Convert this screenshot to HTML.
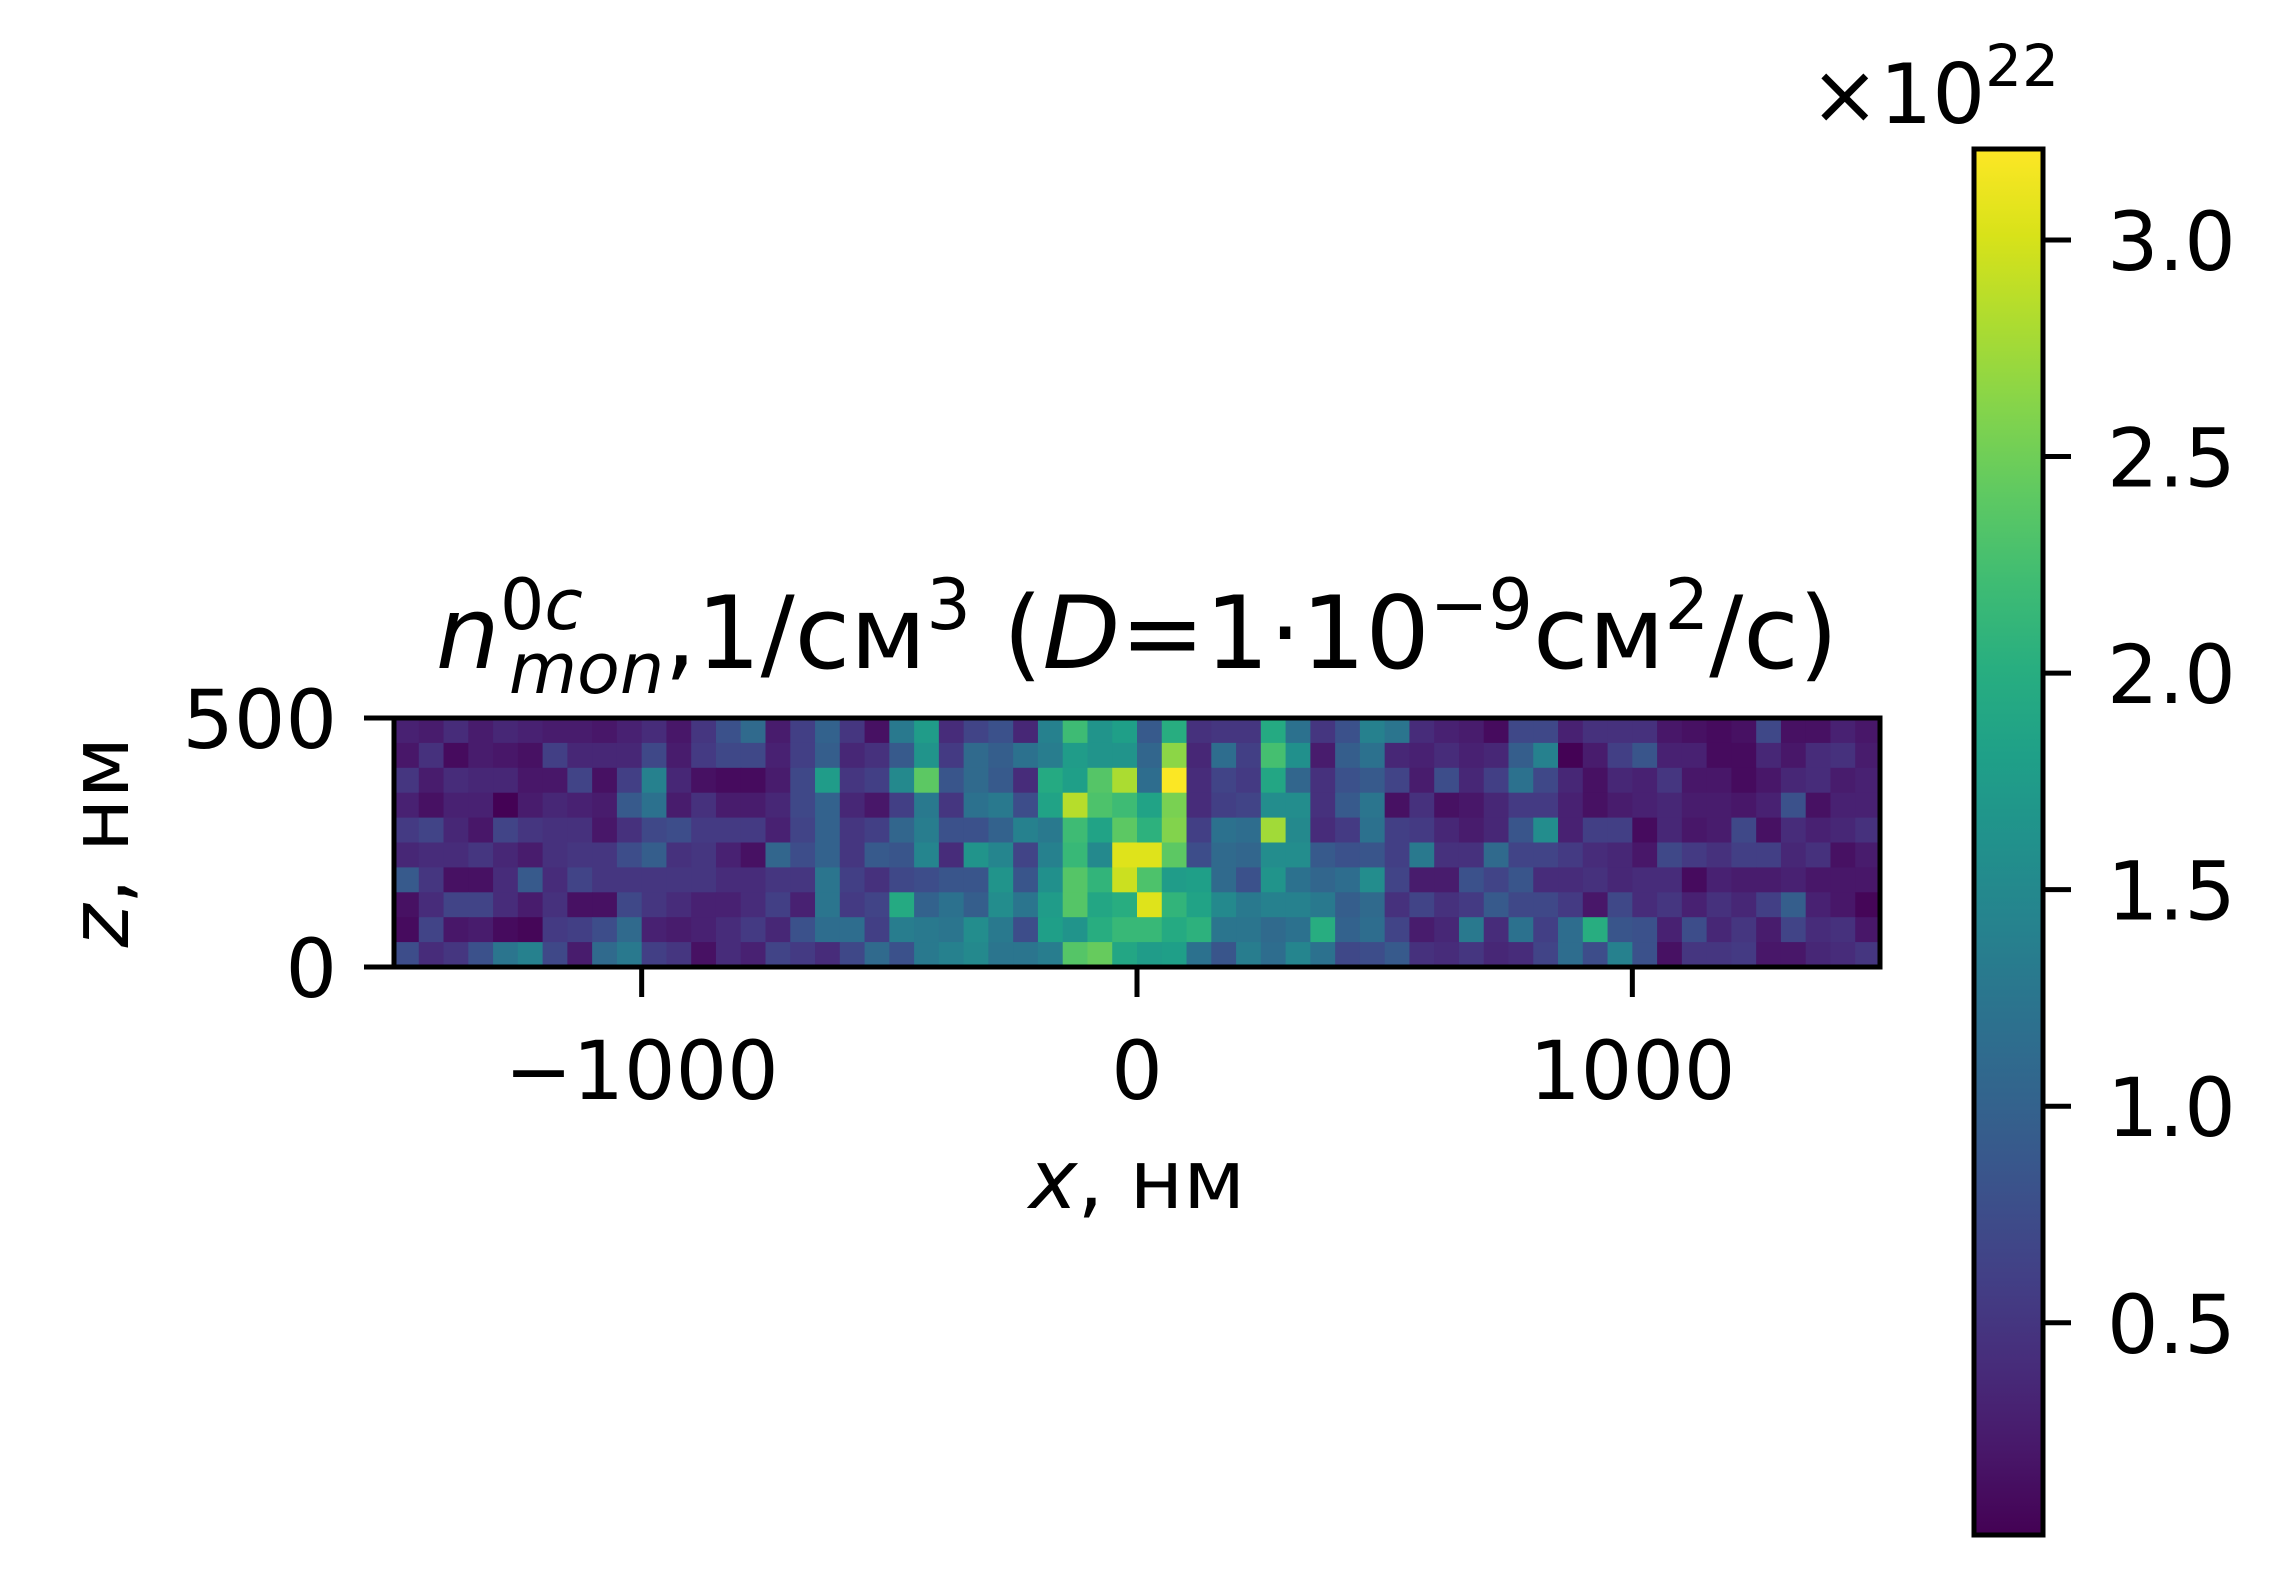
<!DOCTYPE html>
<html><head><meta charset="utf-8"><style>
html,body{margin:0;padding:0;background:#fff;}
svg{display:block;font-family:"DejaVu Sans","Liberation Sans",sans-serif;}
</style></head><body>
<svg id="chart" width="2289" height="1595" viewBox="0 0 2289 1595" xmlns="http://www.w3.org/2000/svg">
<defs><linearGradient id="cbgrad" x1="0" y1="1" x2="0" y2="0"></linearGradient></defs>
<g id="cells"></g>
<g id="axes"></g>
<text x="1137" y="668" font-size="101" text-anchor="middle"><tspan font-style="italic">n</tspan><tspan font-size="70" dy="-39">0</tspan><tspan font-size="70" font-style="italic">c</tspan><tspan font-size="70" font-style="italic" dx="-74" dy="64">mon</tspan><tspan dy="-25">,1/см</tspan><tspan font-size="70" dy="-39">3</tspan><tspan dy="39"> (</tspan><tspan font-style="italic">D</tspan><tspan>=1·10</tspan><tspan font-size="70" dy="-39">−9</tspan><tspan dy="39">см</tspan><tspan font-size="70" dy="-39">2</tspan><tspan dy="39">/с)</tspan></text>
<text x="1137" y="1208" font-size="82" text-anchor="middle"><tspan font-style="italic">x</tspan>, нм</text>
<text transform="translate(128,842) rotate(-90)" font-size="82" text-anchor="middle"><tspan font-style="italic">z</tspan>, нм</text>
<g id="cbar"></g>
<text x="1810" y="123" font-size="83">×10<tspan font-size="58" dy="-37">22</tspan></text>
</svg>
<script>
const xTicks=[-1000,0,1000];
const xTickLabels=["−1000","0","1000"];
const zTicks=[0,500];
const zTickLabels=["0","500"];
const cbTicks=[0.5,1.0,1.5,2.0,2.5,3.0];
const cbTickLabels=["0.5","1.0","1.5","2.0","2.5","3.0"];
const vmin=0.01, vmax=3.21;
const xMin=-1500, xMax=1500, zMin=0, zMax=500, cellSize=50;
// rows from top (z=450..500) to bottom (z=0..50), 60 columns each (x from -1500)
const row0=[0.3,0.25,0.4,0.25,0.35,0.3,0.25,0.25,0.2,0.3,0.4,0.2,0.5,0.8,1.1,0.25,0.6,1.0,0.5,0.15,1.3,1.75,0.4,0.65,0.8,0.35,1.4,2.2,1.65,1.8,0.9,2.0,0.45,0.5,0.5,1.95,1.2,0.5,0.8,1.4,1.25,0.4,0.3,0.25,0.1,0.7,0.7,0.3,0.45,0.45,0.45,0.2,0.15,0.1,0.15,0.7,0.15,0.15,0.3,0.2];
const row1=[0.2,0.45,0.1,0.25,0.2,0.15,0.6,0.35,0.35,0.35,0.7,0.25,0.55,0.7,0.7,0.3,0.6,0.95,0.35,0.45,0.9,1.65,0.55,1.1,0.95,1.2,1.35,1.75,1.65,1.65,1.05,2.65,0.35,1.15,0.6,2.25,1.6,0.25,0.95,1.2,0.35,0.3,0.4,0.3,0.35,0.95,1.4,0.02,0.25,0.6,0.85,0.3,0.3,0.1,0.1,0.35,0.2,0.4,0.45,0.25];
const row2=[0.5,0.25,0.4,0.35,0.35,0.2,0.2,0.65,0.15,0.6,1.4,0.35,0.15,0.1,0.1,0.25,0.7,1.75,0.5,0.6,1.5,2.4,0.85,1.1,0.9,0.4,1.95,1.8,2.35,2.8,1.15,3.2,0.4,0.65,0.55,1.9,1.05,0.45,0.8,0.9,0.65,0.25,0.75,0.35,0.6,1.2,0.7,0.35,0.15,0.35,0.3,0.5,0.2,0.2,0.1,0.2,0.35,0.4,0.25,0.3];
const row3=[0.3,0.15,0.3,0.3,0.02,0.25,0.35,0.3,0.25,0.9,1.2,0.25,0.45,0.25,0.25,0.35,0.7,1.0,0.35,0.2,0.6,1.3,0.5,1.2,1.3,0.75,1.85,2.85,2.3,2.2,1.85,2.55,0.4,0.6,0.65,1.55,1.55,0.45,0.9,1.25,0.15,0.45,0.15,0.2,0.35,0.55,0.55,0.3,0.15,0.25,0.3,0.35,0.25,0.25,0.2,0.3,0.8,0.15,0.3,0.3];
const row4=[0.55,0.65,0.35,0.2,0.65,0.5,0.45,0.45,0.2,0.45,0.7,0.75,0.55,0.55,0.55,0.3,0.65,1.0,0.5,0.6,1.05,1.35,0.8,0.8,1.0,1.4,1.3,2.2,1.85,2.4,2.05,2.6,0.6,1.2,1.15,2.75,1.5,0.4,0.55,1.2,0.6,0.55,0.35,0.25,0.35,0.85,1.55,0.3,0.6,0.6,0.1,0.35,0.2,0.25,0.7,0.15,0.4,0.3,0.35,0.45];
const row5=[0.35,0.4,0.4,0.5,0.35,0.25,0.45,0.5,0.5,0.75,0.95,0.45,0.5,0.3,0.15,1.05,0.75,1.0,0.5,0.9,0.85,1.45,0.4,1.65,1.45,0.65,1.4,2.15,1.5,3.05,3.05,2.4,0.75,1.1,1.05,1.55,1.55,0.9,0.8,0.85,0.6,1.3,0.45,0.45,1.1,0.65,0.65,0.55,0.4,0.35,0.2,0.7,0.55,0.45,0.6,0.6,0.35,0.45,0.15,0.25];
const row6=[0.9,0.5,0.15,0.15,0.4,0.9,0.4,0.65,0.5,0.5,0.5,0.5,0.5,0.4,0.4,0.5,0.5,1.25,0.6,0.45,0.7,0.75,0.85,0.85,1.65,0.85,1.6,2.35,2.1,2.95,2.3,1.75,1.8,1.1,0.8,1.65,1.2,1.05,1.15,1.55,0.65,0.25,0.25,0.8,0.65,0.85,0.4,0.4,0.45,0.35,0.4,0.4,0.1,0.3,0.25,0.25,0.3,0.2,0.2,0.2];
const row7=[0.15,0.4,0.65,0.65,0.4,0.25,0.45,0.15,0.15,0.7,0.5,0.4,0.3,0.3,0.4,0.6,0.3,1.25,0.55,0.65,1.95,1.0,1.2,0.95,1.55,1.25,1.75,2.35,1.9,2.0,3.05,2.1,1.85,1.5,1.3,1.4,1.4,1.3,0.95,1.1,0.45,0.65,0.45,0.55,0.9,0.7,0.7,0.55,0.2,0.7,0.4,0.5,0.3,0.45,0.35,0.6,0.95,0.3,0.2,0.05];
const row8=[0.1,0.65,0.2,0.25,0.1,0.05,0.55,0.6,0.75,1.1,0.3,0.25,0.3,0.4,0.55,0.35,0.8,1.15,1.15,0.6,1.35,1.3,1.25,1.55,1.3,0.75,1.8,1.65,2.0,2.15,2.15,1.95,2.05,1.25,1.25,1.1,1.2,2.0,1.0,1.15,0.65,0.25,0.35,1.3,0.4,1.2,0.6,1.15,2.0,0.85,0.8,0.3,0.75,0.35,0.5,0.25,0.65,0.4,0.45,0.2];
const row9=[0.75,0.4,0.5,0.8,1.25,1.4,0.7,0.25,1.1,1.3,0.6,0.5,0.15,0.4,0.3,0.65,0.55,0.4,0.7,1.1,0.8,1.3,1.4,1.5,1.25,1.25,1.35,2.35,2.45,1.9,1.75,1.8,1.2,0.85,1.35,1.15,1.45,1.2,0.7,0.75,0.9,0.45,0.4,0.5,0.35,0.4,0.65,1.15,0.75,1.4,0.8,0.15,0.5,0.5,0.55,0.2,0.2,0.35,0.4,0.5];
const rows=[row0,row1,row2,row3,row4,row5,row6,row7,row8,row9];

const NS="http://www.w3.org/2000/svg";
const PX0=394,PX1=1880,PY0=718,PY1=967;
const sx=v=>PX0+(v-xMin)/(xMax-xMin)*(PX1-PX0);
const sz=v=>PY1-(v-zMin)/(zMax-zMin)*(PY1-PY0);
const CB={x0:1974,x1:2043,y0:149,y1:1535};
const sc=v=>CB.y1-(v-vmin)/(vmax-vmin)*(CB.y1-CB.y0);
const vir=["#440154","#48186a","#472d7b","#424086","#3b528b","#33638d","#2c728e","#26828e","#21918c","#1fa088","#28ae80","#3fbc73","#5ec962","#84d44b","#addc30","#d8e219","#fde725"];
function hex(h){return [1,3,5].map(i=>parseInt(h.substr(i,2),16));}
function cmap(v){let t=(v-vmin)/(vmax-vmin);t=Math.max(0,Math.min(1,t));
 const p=t*(vir.length-1),i=Math.min(vir.length-2,Math.floor(p)),f=p-i;
 const a=hex(vir[i]),b=hex(vir[i+1]);
 return "rgb("+a.map((c,k)=>Math.round(c+(b[k]-c)*f)).join(",")+")";}
function mk(tag,attrs,parent){const e=document.createElementNS(NS,tag);for(const k in attrs)e.setAttribute(k,attrs[k]);parent.appendChild(e);return e;}

const cells=document.getElementById('cells');
rows.forEach((r,ri)=>{
 const zTop=zMax-ri*cellSize;
 r.forEach((v,ci)=>{
  const xl=xMin+ci*cellSize;
  const x=sx(xl),y=sz(zTop);
  const el=mk('rect',{x:x,y:y,width:sx(xl+cellSize)-x+0.6,height:sz(zTop-cellSize)-y+0.6,fill:cmap(v)},cells);
  
  
 });
});

const axes=document.getElementById('axes');
const frame=mk('rect',{x:PX0,y:PY0,width:PX1-PX0,height:PY1-PY0,fill:'none',stroke:'#000','stroke-width':5},axes);


xTicks.forEach((t,i)=>{
 const x=sx(t);
 const tk=mk('line',{x1:x,x2:x,y1:PY1,y2:PY1+30,stroke:'#000','stroke-width':5},axes);
 
 
 const lb=mk('text',{x:x,y:PY1+132,'font-size':81,'text-anchor':'middle'},axes);
 lb.textContent=xTickLabels[i];
 
 
});
zTicks.forEach((t,i)=>{
 const y=sz(t);
 const tk=mk('line',{x1:PX0-30,x2:PX0,y1:y,y2:y,stroke:'#000','stroke-width':5},axes);
 
 
 const lb=mk('text',{x:PX0-57,y:y+30,'font-size':81,'text-anchor':'end'},axes);
 lb.textContent=zTickLabels[i];
 
 
});

const g=document.getElementById('cbgrad');
vir.forEach((c,i)=>{mk('stop',{offset:(i/(vir.length-1)),'stop-color':c},g);});
const cb=document.getElementById('cbar');
const cbr=mk('rect',{x:CB.x0,y:CB.y0,width:CB.x1-CB.x0,height:CB.y1-CB.y0,fill:'url(#cbgrad)',stroke:'#000','stroke-width':5},cb);


cbTicks.forEach((t,i)=>{
 const y=sc(t);
 const tk=mk('line',{x1:CB.x1,x2:CB.x1+28,y1:y,y2:y,stroke:'#000','stroke-width':5},cb);
 
 
 const lb=mk('text',{x:2107,y:y+30,'font-size':81},cb);
 lb.textContent=cbTickLabels[i];
 
 
});
</script>
</body></html>
